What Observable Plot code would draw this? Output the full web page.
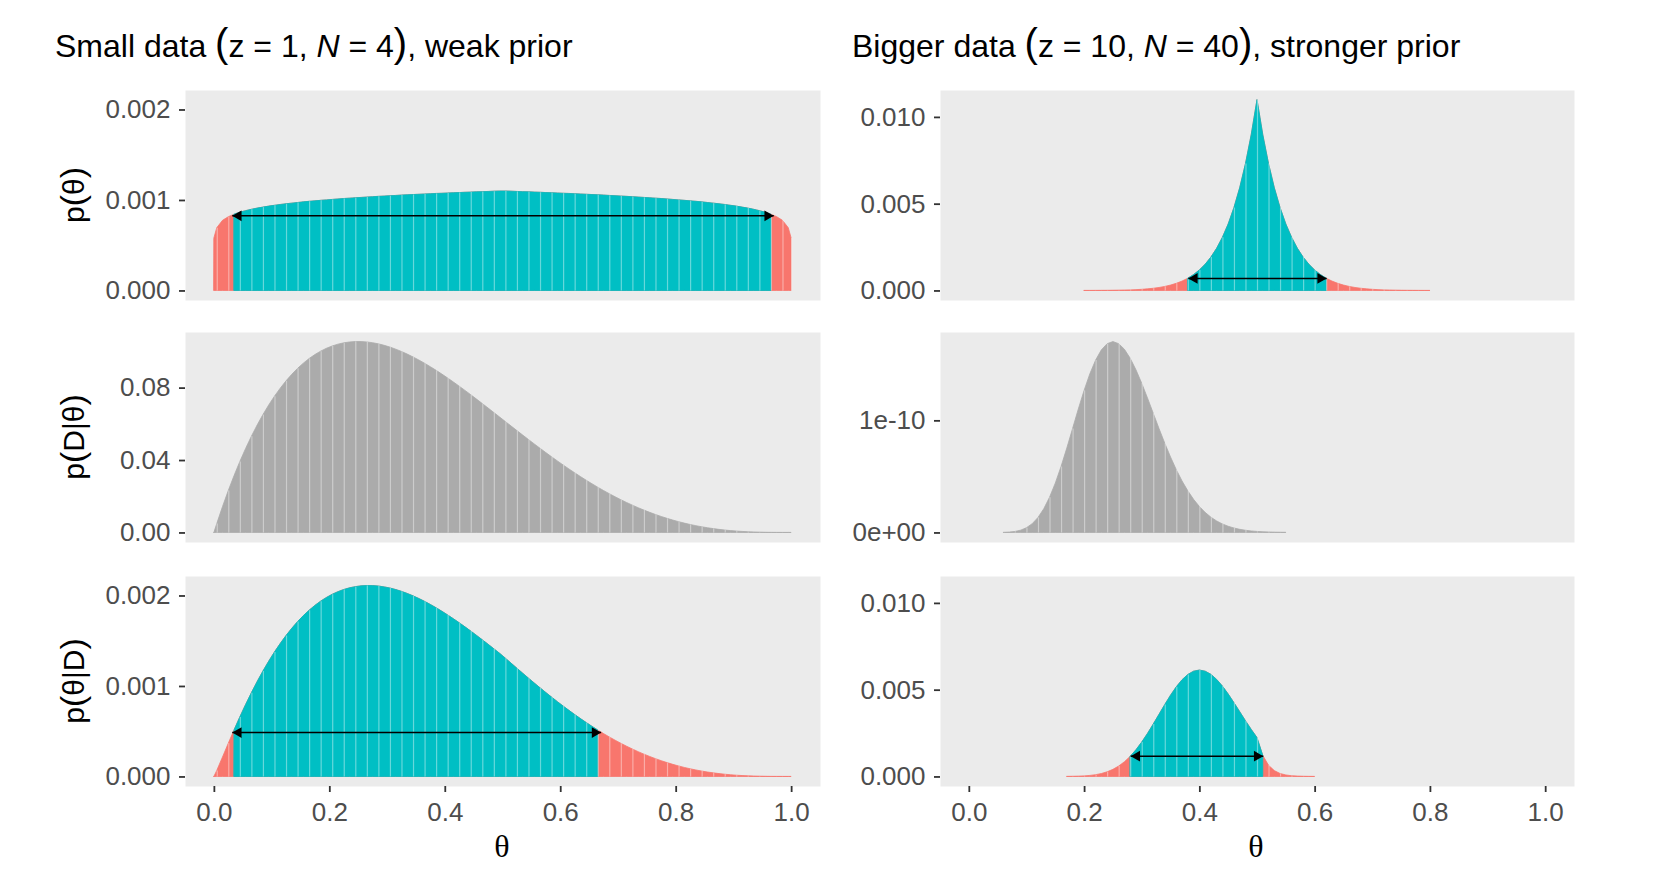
<!DOCTYPE html>
<html><head><meta charset="utf-8">
<script src="https://cdn.jsdelivr.net/npm/d3@7"></script>
<script src="https://cdn.jsdelivr.net/npm/@observablehq/plot@0.6"></script>
<style>
body{margin:0;background:#fff;}
#root{position:relative;width:1654px;height:888px;font-family:"Liberation Sans",Arial,sans-serif;color:#000;overflow:hidden;background:#fff;}
.abs{position:absolute;}
.title{font-size:32px;white-space:nowrap;line-height:1;}
.paren{font-size:40px;line-height:0;}
.ylab{font-size:30px;white-space:nowrap;transform:translate(-50%,-50%) rotate(-90deg);line-height:1;}
.ylab .pp{font-size:34px;line-height:0;}
.xlab{font-family:"Liberation Serif","DejaVu Serif",serif;font-size:32px;transform:translate(-50%,-50%);line-height:1;}
</style></head><body><div id="root"></div>
<script>
// ---------- data ----------
const leftTheta = [0,
0.005,0.015,0.025,0.035,0.045,0.055,0.065,0.075,0.085,0.095,
0.105,0.115,0.125,0.135,0.145,0.155,0.165,0.175,0.185,0.195,
0.205,0.215,0.225,0.235,0.245,0.255,0.265,0.275,0.285,0.295,
0.305,0.315,0.325,0.335,0.345,0.355,0.365,0.375,0.385,0.395,
0.405,0.415,0.425,0.435,0.445,0.455,0.465,0.475,0.485,0.495,
0.505,0.515,0.525,0.535,0.545,0.555,0.565,0.575,0.585,0.595,
0.605,0.615,0.625,0.635,0.645,0.655,0.665,0.675,0.685,0.695,
0.705,0.715,0.725,0.735,0.745,0.755,0.765,0.775,0.785,0.795,
0.805,0.815,0.825,0.835,0.845,0.855,0.865,0.875,0.885,0.895,
0.905,0.915,0.925,0.935,0.945,0.955,0.965,0.975,0.985,0.995,
1];
const leftPrior = [0.00058,
0.000694,0.000775,0.000815,0.000843,0.000865,0.000882,0.000897,0.000910,0.000921,0.000932,
0.000941,0.000950,0.000958,0.000965,0.000972,0.000979,0.000985,0.000990,0.000996,0.001001,
0.001006,0.001011,0.001016,0.001020,0.001024,0.001028,0.001032,0.001036,0.001040,0.001043,
0.001047,0.001050,0.001054,0.001057,0.001060,0.001063,0.001066,0.001069,0.001072,0.001074,
0.001077,0.001080,0.001082,0.001085,0.001087,0.001090,0.001092,0.001094,0.001097,0.001099,
0.001099,0.001097,0.001094,0.001092,0.001090,0.001087,0.001085,0.001082,0.001080,0.001077,
0.001074,0.001072,0.001069,0.001066,0.001063,0.001060,0.001057,0.001054,0.001050,0.001047,
0.001043,0.001040,0.001036,0.001032,0.001028,0.001024,0.001020,0.001016,0.001011,0.001006,
0.001001,0.000996,0.000990,0.000985,0.000979,0.000972,0.000965,0.000958,0.000950,0.000941,
0.000932,0.000921,0.000910,0.000897,0.000882,0.000865,0.000843,0.000815,0.000775,0.000694,
0.00058];
const leftLik = [0,
0.004925,0.014335,0.023172,0.031452,0.039194,0.046415,0.053130,0.059359,0.065115,0.070416,
0.075277,0.079713,0.083740,0.087373,0.090628,0.093519,0.096060,0.098266,0.100148,0.101724,
0.103004,0.104004,0.104733,0.105209,0.105441,0.105441,0.105222,0.104796,0.104174,0.103367,
0.102389,0.101248,0.099953,0.098518,0.096948,0.095261,0.093458,0.091553,0.089555,0.087469,
0.085309,0.083083,0.080797,0.078457,0.076073,0.073655,0.071205,0.068733,0.066246,0.063751,
0.061251,0.058751,0.056264,0.053789,0.051337,0.048907,0.046507,0.044140,0.041812,0.039526,
0.037286,0.035096,0.032959,0.030878,0.028857,0.026897,0.025001,0.023171,0.021410,0.019719,
0.018099,0.016551,0.015078,0.013678,0.012353,0.011103,0.009928,0.008828,0.007802,0.006849,
0.005969,0.005160,0.004422,0.003751,0.003147,0.002607,0.002128,0.001709,0.001346,0.001036,
0.000776,0.000562,0.000390,0.000257,0.000157,0.000087,0.000041,0.000015,0.0000033,0.0000001,
0];
const leftPost = [0,
0.0000664,0.0002157,0.0003669,0.0005151,0.0006583,0.0007954,0.0009258,0.0010491,0.0011653,0.0012742,
0.0013760,0.0014704,0.0015577,0.0016379,0.0017112,0.0017775,0.0018370,0.0018905,0.0019375,0.0019782,
0.0020130,0.0020423,0.0020660,0.0020845,0.0020978,0.0021062,0.0021098,0.0021092,0.0021041,0.0020951,
0.0020823,0.0020656,0.0020456,0.0020223,0.0019959,0.0019668,0.0019349,0.0019007,0.0018642,0.0018254,
0.0017848,0.0017424,0.0016985,0.0016531,0.0016065,0.0015590,0.0015104,0.0014611,0.0014111,0.0013608,
0.0013074,0.0012515,0.0011961,0.0011410,0.0010866,0.0010328,0.0009799,0.0009279,0.0008769,0.0008269,
0.0007781,0.0007306,0.0006843,0.0006393,0.0005958,0.0005537,0.0005132,0.0004742,0.0004368,0.0004010,
0.0003668,0.0003343,0.0003035,0.0002743,0.0002467,0.0002209,0.0001967,0.0001741,0.0001532,0.0001339,
0.0001161,0.0000998,0.0000851,0.0000717,0.0000598,0.0000492,0.0000399,0.0000318,0.0000248,0.0000189,
0.0000140,0.0000101,0.0000069,0.0000045,0.0000027,0.0000015,0.0000007,0.0000002,0.00000005,0,
0];

const rPriorTheta = [0.20,0.21,0.22,0.23,0.24,0.25,0.26,0.27,0.28,0.29,0.30,0.31,0.32,0.33,0.34,0.35,0.36,0.37,0.38,0.39,
0.40,0.41,0.42,0.43,0.44,0.45,0.46,0.47,0.48,0.49,0.50,0.51,0.52,0.53,0.54,0.55,0.56,0.57,0.58,0.59,
0.60,0.61,0.62,0.63,0.64,0.65,0.66,0.67,0.68,0.69,0.70,0.71,0.72,0.73,0.74,0.75,0.76,0.77,0.78,0.79,0.80];
const rPrior = [0.0000012,0.0000019,0.0000030,0.0000047,0.0000071,0.0000107,0.0000159,0.0000232,0.0000334,0.0000474,
0.0000665,0.0000923,0.000127,0.000172,0.000233,0.000311,0.000412,0.000542,0.000707,0.000917,
0.001181,0.001512,0.001924,0.002434,0.003064,0.003835,0.004778,0.005925,0.007313,0.008988,0.011,
0.008988,0.007313,0.005925,0.004778,0.003835,0.003064,0.002434,0.001924,0.001512,0.001181,
0.000917,0.000707,0.000542,0.000412,0.000311,0.000233,0.000172,0.000127,0.0000923,0.0000665,
0.0000474,0.0000334,0.0000232,0.0000159,0.0000107,0.0000071,0.0000047,0.0000030,0.0000019,0.0000012];

const rLikTheta = [0.06,0.07,0.08,0.09,0.10,0.11,0.12,0.13,0.14,0.15,0.16,0.17,0.18,0.19,0.20,0.21,0.22,0.23,0.24,0.25,
0.26,0.27,0.28,0.29,0.30,0.31,0.32,0.33,0.34,0.35,0.36,0.37,0.38,0.39,0.40,0.41,0.42,0.43,0.44,0.45,
0.46,0.47,0.48,0.49,0.50,0.51,0.52,0.53,0.54,0.55];
const rLik = [9.4e-14,3.2e-13,8.8e-13,2.06e-12,4.24e-12,7.86e-12,1.338e-11,2.113e-11,3.135e-11,4.40e-11,
5.88e-11,7.53e-11,9.27e-11,1.1017e-10,1.2673e-10,1.4155e-10,1.538e-10,1.629e-10,1.684e-10,1.703e-10,
1.684e-10,1.634e-10,1.554e-10,1.451e-10,1.331e-10,1.200e-10,1.0634e-10,9.27e-11,7.96e-11,6.73e-11,
5.60e-11,4.59e-11,3.71e-11,2.955e-11,2.318e-11,1.792e-11,1.366e-11,1.026e-11,7.59e-12,5.53e-12,
3.98e-12,2.81e-12,1.96e-12,1.35e-12,9.1e-13,6.0e-13,3.9e-13,2.5e-13,1.6e-13,1.0e-13];

const rPostTheta = [0.17,0.18,0.19,0.20,0.21,0.22,0.23,0.24,0.25,0.26,0.27,0.28,0.29,0.30,0.31,0.32,0.33,0.34,0.35,0.36,
0.37,0.38,0.39,0.40,0.41,0.42,0.43,0.44,0.45,0.46,0.47,0.48,0.49,0.50,0.51,0.52,0.53,0.54,0.55,0.56,
0.57,0.58,0.59,0.60];
const rPost = [0.0000038,0.0000084,0.0000170,0.0000327,0.0000596,0.000103,0.0001702,0.0002694,0.0004097,0.0006002,
0.000849,0.001161,0.001540,0.001982,0.002481,0.003021,0.003584,0.004147,0.004684,0.005167,
0.005574,0.005878,0.006067,0.006131,0.006067,0.005884,0.005591,0.005207,0.004752,0.004254,
0.003733,0.003211,0.002710,0.002240,0.001217,0.000648,0.000338,0.000172,0.000086,0.000042,
0.000020,0.0000092,0.0000042,0.0000019];

// HDI limits [low, high] and arrow height
const hdiLeftPrior = [0.031, 0.969, 0.00083];
const hdiLeftPost  = [0.031, 0.670, 0.00049];
const hdiRightPrior = [0.38, 0.62, 0.00072];
const hdiRightPost  = [0.28, 0.51, 0.0012];

// ticks
const xTicks = [0, 0.2, 0.4, 0.6, 0.8, 1.0];
const xTickLabels = ["0.0", "0.2", "0.4", "0.6", "0.8", "1.0"];
const yTicksLeftP = [0, 0.001, 0.002];
const yLabelsLeftP = ["0.000", "0.001", "0.002"];
const yTicksLeftL = [0, 0.04, 0.08];
const yLabelsLeftL = ["0.00", "0.04", "0.08"];
const yTicksRightP = [0, 0.005, 0.010];
const yLabelsRightP = ["0.000", "0.005", "0.010"];
const yTicksRightL = [0, 1e-10];
const yLabelsRightL = ["0e+00", "1e-10"];

const titles = [
  {pre: "Small data ", z: "1", n: "4", post: ", weak prior"},
  {pre: "Bigger data ", z: "10", n: "40", post: ", stronger prior"}
];
const yTitles = [["p", "θ", ""], ["p", "D|θ", ""], ["p", "θ|D", ""]];
const xTitle = "θ";

// ---------- drawing ----------
const RED = "#F8766D", CYAN = "#00BFC4", GREY = "#ABABAB", BG = "#EBEBEB";
const root = document.getElementById("root");

function panel(o) {
  const rows = o.theta.map((t, i) => ({theta: t, v: o.values[i]}));
  const M = o.yMax;
  const base = o.hdi ? RED : GREY;
  const marks = [
    Plot.frame({fill: BG, stroke: "none"}),
    Plot.areaY(rows, {x: "theta", y: "v", fill: base, stroke: base, strokeWidth: 0.8})
  ];
  if (o.hdi) {
    const [lo, hi] = o.hdi;
    marks.push(Plot.areaY(rows.filter(d => d.theta >= lo && d.theta <= hi),
      {x: "theta", y: "v", fill: CYAN, stroke: CYAN, strokeWidth: 0.8}));
  }
  marks.push(Plot.ruleX(rows.filter((d, i) => i % 2 === o.parity && d.v > 0),
    {x: "theta", y1: 0, y2: "v", stroke: "white", strokeOpacity: 0.4, strokeWidth: 1.2}));
  if (o.hdi) {
    const a = [{lo: o.hdi[0], hi: o.hdi[1], h: o.hdi[2]}];
    marks.push(
      Plot.link(a, {x1: "lo", x2: "hi", y1: "h", y2: "h", stroke: "black", strokeWidth: 1.5}),
      Plot.dot(a, {x: "lo", y: "h", symbol: "triangle", r: 4, fill: "black", stroke: "none", rotate: -90, dx: 6.2}),
      Plot.dot(a, {x: "hi", y: "h", symbol: "triangle", r: 4, fill: "black", stroke: "none", rotate: 90, dx: -6.2})
    );
  }
  marks.push(Plot.axisY({
    ticks: o.yTicks, tickFormat: d => o.yLabels[o.yTicks.indexOf(d)],
    tickSize: 6, tickPadding: 9, fontSize: 26, color: "#4D4D4D", stroke: "#333333", strokeWidth: 1.8, label: null
  }));
  if (o.xAxis) {
    marks.push(Plot.axisX({
      ticks: xTicks, tickFormat: d => xTickLabels[xTicks.indexOf(d)],
      tickSize: 6, tickPadding: 10, fontSize: 26, color: "#4D4D4D", stroke: "#333333", strokeWidth: 1.8, label: null
    }));
  }
  const svg = Plot.plot({
    width: o.width, height: o.height,
    marginLeft: o.ml, marginRight: o.mr, marginTop: o.mt, marginBottom: o.mb,
    x: {domain: [-0.05, 1.05], label: null, axis: o.xAxis ? undefined : null},
    y: {domain: [-0.05 * M, 1.05 * M], label: null},
    style: {fontFamily: "'Liberation Sans', Arial, sans-serif", background: "transparent", overflow: "visible"},
    marks
  });
  svg.style.position = "absolute";
  svg.style.left = o.left + "px";
  svg.style.top = o.top + "px";
  root.appendChild(svg);
}

const leftMaxP = Math.max(d3.max(leftPrior), d3.max(leftPost));
const rightMaxP = Math.max(d3.max(rPrior), d3.max(rPost));
const rowTop = [90, 332, 576];
const PH = 210, MT = 10;
const colL = {left: 0, width: 830, ml: 185, mr: 10};
const colR = {left: 830, width: 824, ml: 110, mr: 80};

function place(col, row, spec) {
  const last = row === 2;
  panel(Object.assign({}, col, spec, {
    top: rowTop[row] - MT, mt: MT, mb: last ? 50 : 10,
    height: MT + PH + (last ? 50 : 10), xAxis: last
  }));
}

place(colL, 0, {theta: leftTheta, values: leftPrior, hdi: hdiLeftPrior, yMax: leftMaxP, yTicks: yTicksLeftP, yLabels: yLabelsLeftP, parity: 1});
place(colL, 1, {theta: leftTheta, values: leftLik, hdi: null, yMax: d3.max(leftLik), yTicks: yTicksLeftL, yLabels: yLabelsLeftL, parity: 1});
place(colL, 2, {theta: leftTheta, values: leftPost, hdi: hdiLeftPost, yMax: leftMaxP, yTicks: yTicksLeftP, yLabels: yLabelsLeftP, parity: 1});
place(colR, 0, {theta: rPriorTheta, values: rPrior, hdi: hdiRightPrior, yMax: rightMaxP, yTicks: yTicksRightP, yLabels: yLabelsRightP, parity: 0});
place(colR, 1, {theta: rLikTheta, values: rLik, hdi: null, yMax: d3.max(rLik), yTicks: yTicksRightL, yLabels: yLabelsRightL, parity: 0});
place(colR, 2, {theta: rPostTheta, values: rPost, hdi: hdiRightPost, yMax: rightMaxP, yTicks: yTicksRightP, yLabels: yLabelsRightP, parity: 1});

// titles
const titleX = [55, 852];
titles.forEach((t, i) => {
  const d = document.createElement("div");
  d.className = "abs title";
  d.style.left = titleX[i] + "px";
  d.style.top = "30px";
  d.innerHTML = `${t.pre}<span class="paren">(</span>z = ${t.z}, <i>N</i> = ${t.n}<span class="paren">)</span>${t.post}`;
  root.appendChild(d);
});
// y titles
yTitles.forEach((t, i) => {
  const d = document.createElement("div");
  d.className = "abs ylab";
  d.style.left = "74px";
  d.style.top = (rowTop[i] + PH / 2) + "px";
  d.innerHTML = `${t[0]}<span class="pp">(</span>${t[1]}<span class="pp">)</span>`;
  root.appendChild(d);
});
// x titles
[[colL, 502], [colR, 1256]].forEach(([c, x]) => {
  const d = document.createElement("div");
  d.className = "abs xlab";
  d.style.left = x + "px";
  d.style.top = "846px";
  d.textContent = xTitle;
  root.appendChild(d);
});
</script></body></html>
